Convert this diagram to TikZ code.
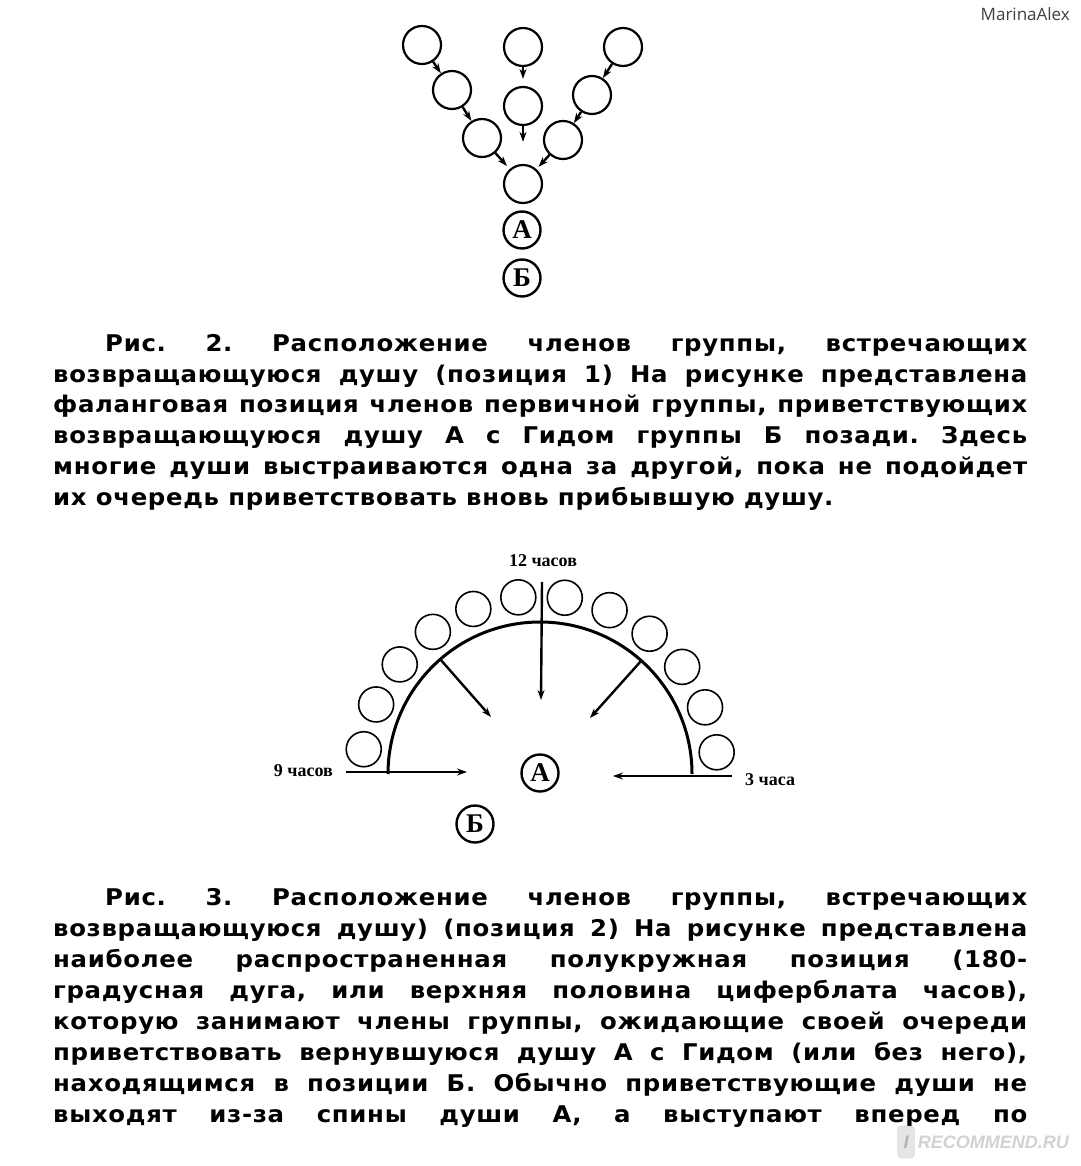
\documentclass[tikz,border=0pt]{standalone}
\usepackage{fontspec}
\usetikzlibrary{arrows.meta,calc,positioning}
\newfontfamily\capfont[LetterSpace=3,FakeStretch=1.06]{DejaVu Sans}
\newfontfamily\scanfont{Liberation Serif}
\newfontfamily\userfont{Open Sans}
\newfontfamily\sitefont{Liberation Sans}

\begin{document}
\begin{tikzpicture}[x=1pt,y=-1pt,
 soul/.style={circle,draw,line width=2.2pt,minimum size=38pt,inner sep=0pt},
 arcsoul/.style={circle,draw,line width=1.6pt,minimum size=35pt,inner sep=0pt},
 marked/.style={circle,draw,line width=2.4pt,minimum size=37pt,inner sep=0pt,
                font=\scanfont\bfseries\fontsize{27}{27}\selectfont},
 arrow/.style={-{Stealth[length=10pt,width=7pt]},line width=2.4pt},
 hour/.style={font=\scanfont\bfseries\fontsize{18}{18}\selectfont,inner sep=0pt},
 caption/.style={anchor=north west,inner sep=0pt,text width=974pt,align=justify,
                 font=\capfont\bfseries\fontsize{23}{30.8}\selectfont}]
\useasboundingbox (0,0) rectangle (1080,1166);
\fill[white] (0,0) rectangle (1080,1166);

% user name
\node[anchor=east,inner sep=0pt,text=black!75,font=\userfont\fontsize{17}{17}\selectfont] (user) at (1070,14) {MarinaAlex};

% figure 2: phalanx
\node[soul] (left1) at (422,45) {};
\node[soul] (left2) at (452,90) {};
\node[soul] (left3) at (482,138) {};
\node[soul] (mid1) at (523,47) {};
\node[soul] (mid2) at (523,106) {};
\node[soul] (right1) at (623,47) {};
\node[soul] (right2) at (592,95) {};
\node[soul] (right3) at (563,140) {};
\node[soul] (front) at (523,184) {};
\node[marked] (soulA) at (522,230) {А};
\node[marked] (guideB) at (522,278) {Б};
\draw[arrow] (left1)--(left2);
\draw[arrow] (left2)--(left3);
\draw[arrow,shorten >=4pt] (left3)--(front);
\draw[arrow,shorten >=7pt] (mid1)--(mid2);
\draw[arrow,shorten >=22pt] (mid2)--(front);
\draw[arrow] (right1)--(right2);
\draw[arrow] (right2)--(right3);
\draw[arrow,shorten >=3pt] (right3)--(front);

\node[caption] (fig2text) at (53,334) {\frenchspacing\tolerance=9999
\hspace*{52pt}Рис. 2. Расположение членов группы, встречающих\linebreak
возвращающуюся душу (позиция 1) На рисунке представлена\linebreak
фаланговая позиция членов первичной группы, приветствующих\linebreak
возвращающуюся душу А с Гидом группы Б позади. Здесь\linebreak
многие души выстраиваются одна за другой, пока не подойдет\linebreak
их очередь приветствовать вновь прибывшую душу.};

% figure 3: half circle
\coordinate (centre) at (540,774);
\foreach \k in {0,...,11}
  \node[arcsoul] (ring\k) at ($(centre)+({178*cos(7+15*\k)},{-178*sin(7+15*\k)})$) {};
\draw[line width=3pt] (388,774) arc[start angle=180,end angle=360,radius=152];
\coordinate (noon) at (542,582);
\coordinate (noonend) at (541,700);
\coordinate (nine) at (346,772);
\coordinate (nineend) at (467,772);
\coordinate (three) at (732,776);
\coordinate (threeend) at (613,776);
\coordinate (upleft) at (440,659);
\coordinate (upleftend) at (491,717);
\coordinate (upright) at (641,661);
\coordinate (uprightend) at (590,718);
\draw[arrow] (noon)--(noonend);
\draw[arrow,line width=2.6pt] (nine)--(nineend);
\draw[arrow,line width=2.6pt] (three)--(threeend);
\draw[arrow] (upleft)--(upleftend);
\draw[arrow] (upright)--(uprightend);
\node[hour] (noontext) at (543,561) {12 часов};
\node[hour,anchor=east] (ninetext) at (333,771) {9 часов};
\node[hour,anchor=west] (threetext) at (745,780) {3 часа};
\node[marked] (arcA) at (540,773) {А};
\node[marked] (arcB) at (475,824) {Б};

\node[caption,font=\capfont\bfseries\fontsize{23}{31}\selectfont] (fig3text) at (53,888) {\frenchspacing\tolerance=9999
\hspace*{52pt}Рис. 3. Расположение членов группы, встречающих\linebreak
возвращающуюся душу) (позиция 2) На рисунке представлена\linebreak
наиболее распространенная полукружная позиция (180-\linebreak
градусная дуга, или верхняя половина циферблата часов),\linebreak
которую занимают члены группы, ожидающие своей очереди\linebreak
приветствовать вернувшуюся душу А с Гидом (или без него),\linebreak
находящимся в позиции Б. Обычно приветствующие души не\linebreak
выходят из-за спины души А, а выступают вперед по{\parfillskip=0pt\par}};

% watermark
\node[fill=gray!20,draw=gray!40,rounded corners=4pt,minimum width=17pt,minimum height=32pt,
      inner sep=0pt,text=gray!60,font=\sitefont\bfseries\itshape\fontsize{18}{18}\selectfont] (badge) at (906,1142) {I};
\node[right=3pt of badge,inner sep=0pt,text=gray!35,
      font=\sitefont\bfseries\itshape\fontsize{18}{18}\selectfont] (site) {RECOMMEND.RU};
\end{tikzpicture}
\end{document}
